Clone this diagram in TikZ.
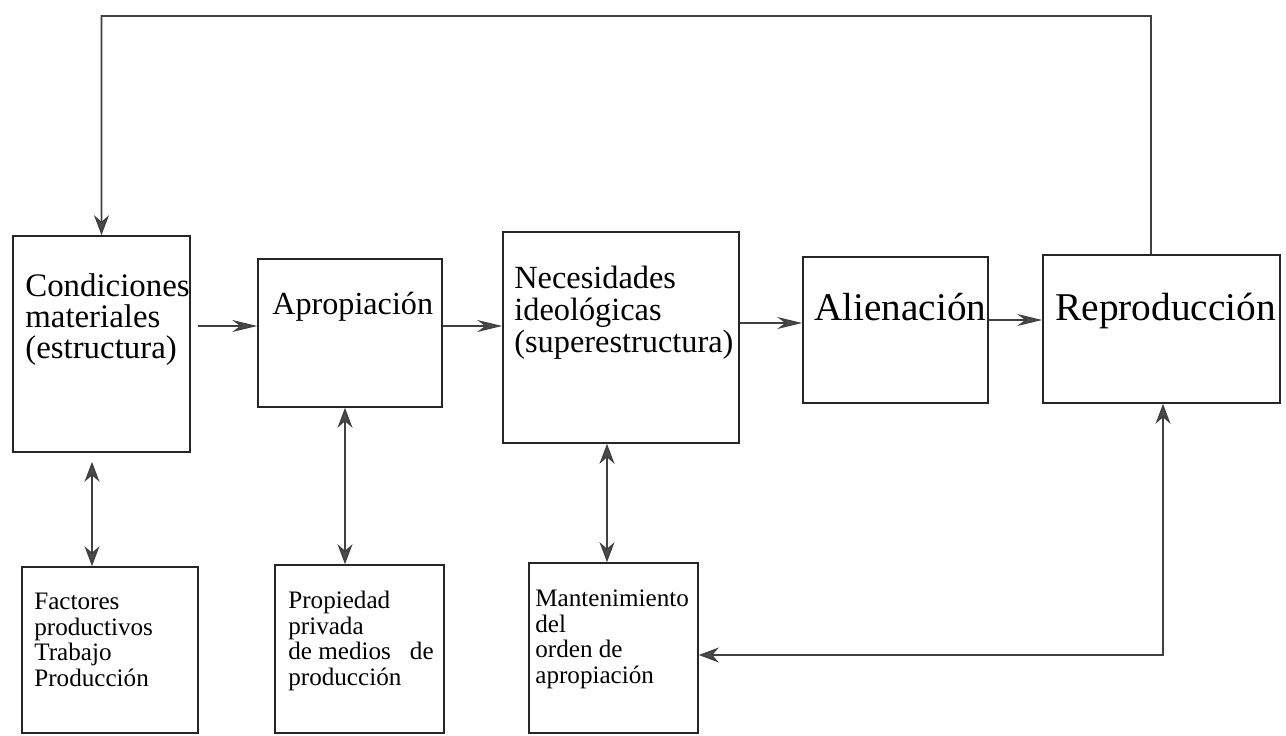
\documentclass[tikz,border=0pt]{standalone}
\usepackage{fontspec}
\setmainfont{Liberation Serif}
\usepackage{tikz}
\usetikzlibrary{arrows.meta}

\begin{document}
\begin{tikzpicture}[x=0.2mm, y=-0.2mm,
    caja/.style={draw=black!85, line width=0.9pt, rectangle, inner sep=0pt},
    texto/.style={anchor=north west, align=left, inner sep=0pt},
    flecha/.style={draw=black!75, line width=0.9pt, -{Stealth[length=5mm, width=2.4mm, inset=1.6mm, fill=black!70]}},
    enlace/.style={draw=black!75, line width=0.9pt, {Stealth[length=4mm, width=3mm, inset=1.3mm, fill=black!70]}-{Stealth[length=4mm, width=3mm, inset=1.3mm, fill=black!70]}},
    retorno/.style={draw=black!75, line width=0.9pt, -{Stealth[length=4mm, width=3mm, inset=1.3mm, fill=black!70]}}
]
    \useasboundingbox (0,0) rectangle (1286,736);

    % Cajas de arriba
    \node[caja, minimum width=35.4mm, minimum height=43.2mm] (cond) at (101.5,344) {};
    \node[caja, minimum width=36.8mm, minimum height=29.6mm] (aprop) at (350,333) {};
    \node[caja, minimum width=47.2mm, minimum height=42.2mm] (neces) at (621,337.5) {};
    \node[caja, minimum width=37mm, minimum height=29.2mm] (alien) at (895.5,330) {};
    \node[caja, minimum width=47.4mm, minimum height=29.6mm] (repro) at (1161.5,329) {};

    % Cajas de abajo
    \node[caja, minimum width=35.2mm, minimum height=33.2mm] (fact) at (110,650) {};
    \node[caja, minimum width=33.8mm, minimum height=33.6mm] (prop) at (359.5,649) {};
    \node[caja, minimum width=33.8mm, minimum height=34mm] (mant) at (613.5,648) {};

    % Textos
    \node[texto, font=\fontsize{18.7}{17.6}\selectfont] (condT) at (25,273) {Condiciones\\materiales\\(estructura)};
    \node[texto, font=\fontsize{18.3}{17.6}\selectfont] (apropT) at (272,292) {Apropiación};
    \node[texto, font=\fontsize{18.4}{18.2}\selectfont] (necesT) at (514,266) {Necesidades\\ideológicas\\(superestructura)};
    \node[texto, font=\fontsize{22.3}{24}\selectfont] (alienT) at (814,293) {Alienación};
    \node[texto, font=\fontsize{22.4}{24}\selectfont] (reproT) at (1055,293) {Reproducción};
    \node[texto, font=\fontsize{14.3}{14.5}\selectfont] (factT) at (34,593) {Factores\\productivos\\Trabajo\\Producción};
    \node[texto, font=\fontsize{14.3}{14.5}\selectfont] (propT) at (288,591) {Propiedad\\privada\\de medios\hspace{0.38cm}de\\producción};
    \node[texto, font=\fontsize{14.3}{14.5}\selectfont] (mantT) at (535,590) {Mantenimiento\\del\\orden de\\apropiación};

    % Flechas horizontales
    \draw[flecha] ([xshift=1.4mm, yshift=3.6mm]cond.east) -- ([yshift=1.4mm]aprop.west);
    \draw[flecha] ([yshift=1.4mm]aprop.east) -- ([yshift=2.3mm]neces.west);
    \draw[flecha] ([yshift=2.9mm]neces.east) -- ([yshift=1.4mm]alien.west);
    \draw[flecha] ([yshift=2mm]alien.east) -- ([yshift=1.8mm]repro.west);

    % Retorno de arriba
    \coordinate (arriba) at (1151,16);
    \draw[retorno] ([xshift=-2.1mm]repro.north) -- (arriba) -| (cond.north);

    % Flechas dobles
    \draw[enlace] ([xshift=-1.9mm, yshift=-1.8mm]cond.south) -- ([xshift=-3.6mm]fact.north);
    \draw[enlace] ([xshift=-1mm]aprop.south) -- ([xshift=-2.9mm]prop.north);
    \draw[enlace] ([xshift=-2.8mm]neces.south) -- ([xshift=-1.3mm]mant.north);
    \draw[enlace] ([yshift=-1.4mm]mant.east) -| ([xshift=0.3mm]repro.south);
\end{tikzpicture}
\end{document}
